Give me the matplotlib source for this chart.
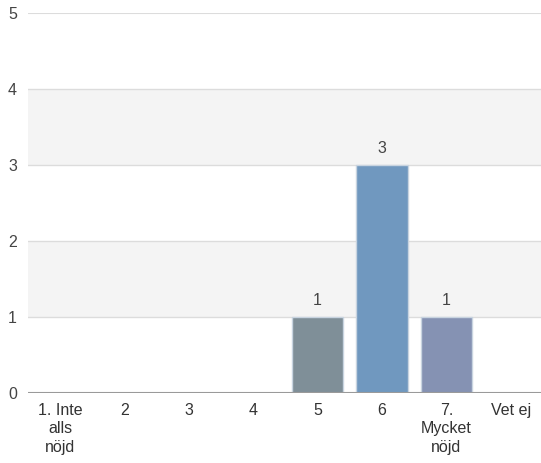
import numpy as np
import matplotlib.pyplot as plt

plt.rcParams['font.family'] = ['Liberation Sans', 'DejaVu Sans']

categories = ['1. Inte\nalls\nnöjd', '2', '3', '4', '5', '6', '7.\nMycket\nnöjd', 'Vet ej']
counts = [0, 0, 0, 0, 1, 3, 1, 0]
bar_colors = ['#7f8f98', '#7f8f98', '#7f8f98', '#7f8f98', '#7f8f98', '#7098bf', '#8592b3', '#7f8f98']

fig = plt.figure(figsize=(5.41, 4.63), dpi=100)
ax = fig.add_axes([28/541, 1-393/463, 1-26/541, (393-13)/463])

x = np.arange(len(categories))
ax.set_xlim(-0.5, len(categories) - 0.5)
ax.set_ylim(0, 5)

# alternating bands
for lo in range(0, 5):
    if lo % 2 == 1:
        ax.axhspan(lo, lo + 1, color='#f4f4f4', zorder=0, lw=0)
for y in range(1, 6):
    ax.axhline(y, color='#dcdcdc', lw=1.5 if y == 5 else 1, zorder=1)
ax.axhline(0, color='#9a9a9a', lw=1.5, zorder=4)

for i, v in enumerate(counts):
    if v > 0:
        ax.bar(x[i], v, width=0.8, color=bar_colors[i], edgecolor='#c8d4e0', lw=1, zorder=3)
        ax.text(x[i], v + 0.12, str(v), ha='center', va='bottom', fontsize=11.5, color='#444444')

ax.set_xticks(x)
ax.set_xticklabels(categories, fontsize=11.5, color='#333333', linespacing=1.3)
ax.set_yticks(range(0, 6))
ax.set_yticklabels([str(i) for i in range(0, 6)], fontsize=11.5, color='#444444')
ax.tick_params(length=0, pad=8)
ax.tick_params(axis='x', pad=7)
for s in ax.spines.values():
    s.set_visible(False)

fig.savefig('out.png', dpi=100)
